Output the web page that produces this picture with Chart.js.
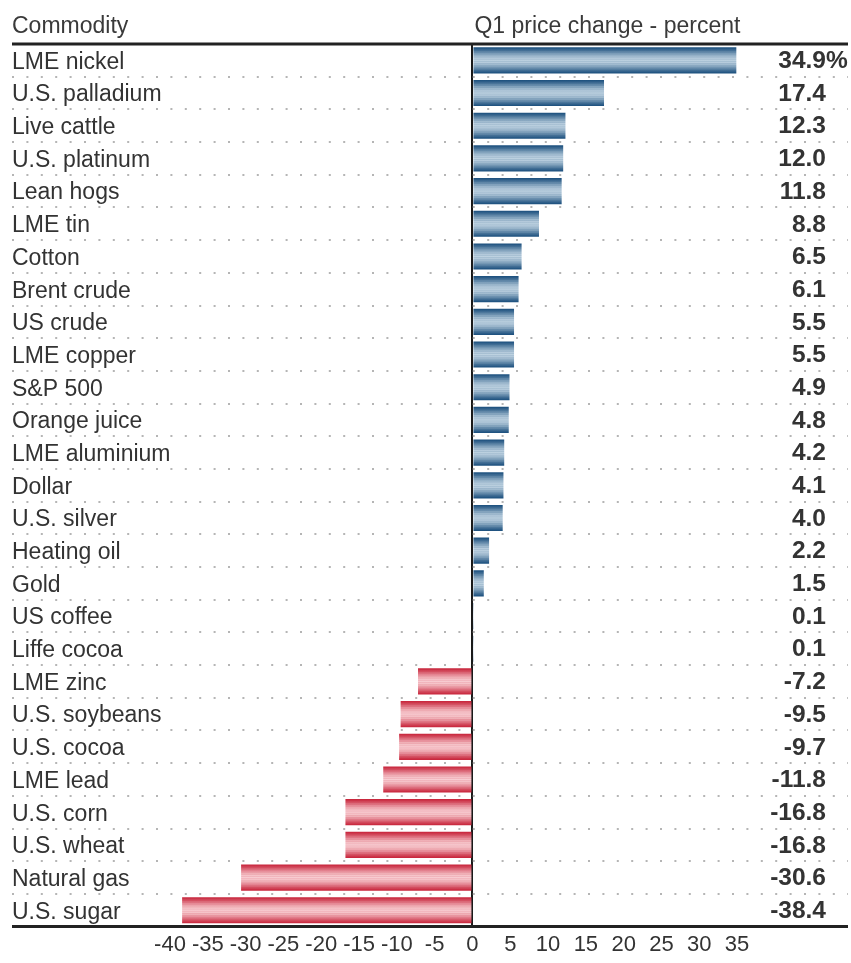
<!DOCTYPE html>
<html>
<head>
<meta charset="utf-8">
<script src="https://cdn.jsdelivr.net/npm/chart.js@4/dist/chart.umd.min.js"></script>
<style>
  html, body { margin: 0; padding: 0; background: #fff; }
  #wrap { width: 851px; height: 963px; position: relative; }
</style>
</head>
<body>
<div id="wrap"><canvas id="myChart" width="851" height="963"></canvas></div>
<script>
// commodities, top to bottom
var commodities = ['LME nickel', 'U.S. palladium', 'Live cattle', 'U.S. platinum', 'Lean hogs',
	'LME tin', 'Cotton', 'Brent crude', 'US crude', 'LME copper', 'S&P 500', 'Orange juice',
	'LME aluminium', 'Dollar', 'U.S. silver', 'Heating oil', 'Gold', 'US coffee', 'Liffe cocoa',
	'LME zinc', 'U.S. soybeans', 'U.S. cocoa', 'LME lead', 'U.S. corn', 'U.S. wheat',
	'Natural gas', 'U.S. sugar'];
// Q1 price change, percent
var priceChange = [34.9, 17.4, 12.3, 12.0, 11.8, 8.8, 6.5, 6.1, 5.5, 5.5, 4.9, 4.8, 4.2, 4.1,
	4.0, 2.2, 1.5, 0.1, 0.1, -7.2, -9.5, -9.7, -11.8, -16.8, -16.8, -30.6, -38.4];
// x axis ticks
var xTicks = [-40, -35, -30, -25, -20, -15, -10, -5, 0, 5, 10, 15, 20, 25, 30, 35];

var FONT = "'Liberation Sans', Arial, sans-serif";

/* striped "tube" gradient for a bar */
function tubeGradient(ctx, top, bottom, dark, light) {
	var g = ctx.createLinearGradient(0, top, 0, bottom);
	var n = 24;
	for (var i = 0; i <= n; i++) {
		var t = i / n;
		var k = Math.sin(Math.PI * t); // 0 at edges, 1 middle
		k = Math.pow(k, 1.3) * (i % 2 ? 0.86 : 1);
		var c = [0, 1, 2].map(function(j) {
			return Math.round(dark[j] + (light[j] - dark[j]) * k);
		});
		g.addColorStop(t, 'rgb(' + c.join(',') + ')');
	}
	return g;
}

function barColor(context) {
	var chart = context.chart;
	var y = chart.scales.y;
	if (!y || !chart.chartArea) return '#4a7aa0';
	var v = priceChange[context.dataIndex];
	var cy = y.getPixelForValue(context.dataIndex);
	var h = 13;
	if (v >= 0) return tubeGradient(chart.ctx, cy - h, cy + h, [28, 80, 126], [190, 210, 225]);
	return tubeGradient(chart.ctx, cy - h, cy + h, [200, 38, 60], [248, 205, 210]);
}

/* header, solid rules and value labels */
var decorPlugin = {
	id: 'decor',
	afterDraw: function(chart) {
		var ctx = chart.ctx, area = chart.chartArea;
		var x = chart.scales.x, y = chart.scales.y;
		ctx.save();

		ctx.fillStyle = '#3a3a3a';
		ctx.font = '23px ' + FONT;
		ctx.textBaseline = 'alphabetic';
		ctx.textAlign = 'left';
		ctx.fillText('Commodity', 12, 33);
		ctx.fillText('Q1 price change - percent', x.getPixelForValue(0) + 2, 33);

		// rules
		ctx.strokeStyle = '#222';
		ctx.lineWidth = 3;
		ctx.beginPath();
		ctx.moveTo(12, area.top);
		ctx.lineTo(area.right, area.top);
		ctx.moveTo(12, area.bottom);
		ctx.lineTo(area.right, area.bottom);
		ctx.stroke();

		// values, numbers right-aligned, % hanging
		ctx.fillStyle = '#333';
		ctx.font = 'bold 24.5px ' + FONT;
		ctx.textBaseline = 'middle';
		var numRight = area.right - 22;
		priceChange.forEach(function(v, i) {
			var yy = y.getPixelForValue(i) + 1;
			ctx.textAlign = 'right';
			ctx.fillText(v.toFixed(1), numRight, yy);
			if (i === 0) {
				ctx.textAlign = 'left';
				ctx.fillText('%', numRight, yy);
			}
		});
		ctx.restore();
	}
};

var ctx = document.getElementById('myChart').getContext('2d');
var myChart = new Chart(ctx, {
	type: 'bar',
	data: {
		labels: commodities,
		datasets: [{
			data: priceChange,
			backgroundColor: barColor,
			borderWidth: 0,
			barPercentage: 0.8,
			categoryPercentage: 1
		}]
	},
	options: {
		indexAxis: 'y',
		responsive: false,
		animation: false,
		layout: { padding: { left: 12, right: 3, top: 44, bottom: 0 } },
		plugins: { legend: { display: false }, tooltip: { enabled: false } },
		scales: {
			x: {
				min: -60.9,
				max: 49.67,
				afterBuildTicks: function(scale) {
					scale.ticks = xTicks.map(function(v) { return { value: v }; });
				},
				grid: {
					drawTicks: false,
					lineWidth: 2,
					color: function(c) { return c.tick && c.tick.value === 0 ? '#1a1a1a' : 'rgba(0,0,0,0)'; }
				},
				border: { display: false },
				ticks: {
					autoSkip: false,
					maxRotation: 0,
					padding: 5,
					color: '#333',
					font: { family: FONT, size: 22 },
					callback: function(v) { return v; }
				}
			},
			y: {
				grid: {
					drawTicks: false,
					offset: true,
					color: '#b5b5b5',
					lineWidth: 2
				},
				border: { display: false, dash: [2, 12.4] },
				ticks: {
					mirror: true,
					padding: 0,
					labelOffset: 2,
					color: '#333',
					font: { family: FONT, size: 23 }
				}
			}
		}
	},
	plugins: [decorPlugin]
});
</script>
</body>
</html>
